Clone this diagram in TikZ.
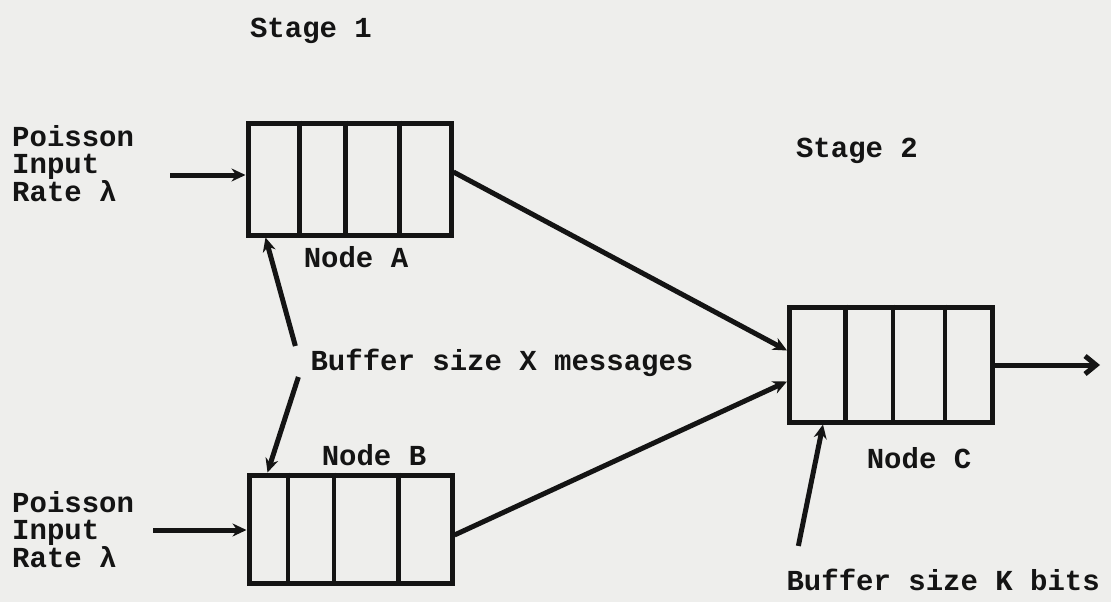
\documentclass[tikz,border=0pt]{standalone}
\usepackage{fontspec}
\setmonofont{Liberation Mono}
\usetikzlibrary{arrows.meta,calc,backgrounds}
\definecolor{Paper}{RGB}{ 238, 238, 236 }
\definecolor{Ink}{HTML}{141414}
\tikzset{
    label/.style={font=\ttfamily\bfseries\fontsize{29}{27}\selectfont, text=Ink, inner sep=0pt},
    buffer/.style={draw=Ink, line width=5pt, minimum width=203pt, inner sep=0pt},
    link/.style={Ink, line width=5pt, -{Stealth[length=14pt, width=13pt]}},
    divider/.style={Ink, line width=4.5pt}
}
\NewDocumentCommand{\Dividers}{m m}{
    \foreach \f in {#2} {
        \draw[divider] ($(#1.north west)!\f!(#1.north east)$) -- ($(#1.south west)!\f!(#1.south east)$);
    }
}

\begin{document}
\begin{tikzpicture}[x=1pt, y=-1pt]
\fill[Paper] (0,0) rectangle (1111,602);
\useasboundingbox (0,0) rectangle (1111,602);

% buffers
\node[buffer, minimum height=112pt] (nodeA) at (349.5,179) {};
\node[buffer, minimum height=108pt] (nodeB) at (350.5,529) {};
\node[buffer, minimum height=115pt] (nodeC) at (891,364.5) {};
\Dividers{nodeA}{0.26,0.48,0.74}
\Dividers{nodeB}{0.20,0.42,0.73}
\Dividers{nodeC}{0.28,0.51,0.76}

% labels
\node[label] (stage1) at (311,31) {Stage 1};
\node[label] (stage2) at (857,151) {Stage 2};
\node[label] (labA) at (356,257) {Node A};
\node[label] (labB) at (374,455) {Node B};
\node[label] (labC) at (919,458) {Node C};
\node[label, align=left, anchor=west] (inTextA) at (12,164) {Poisson\\Input\\Rate λ};
\node[label, align=left, anchor=west] (inTextB) at (12,530) {Poisson\\Input\\Rate λ};
\node[label] (bufX) at (502,363) {Buffer size X messages};
\node[label, anchor=east] (bufK) at (1100,580) {Buffer size K bits};

\coordinate (inA) at (170,175);
\coordinate (inB) at (153,530);
\coordinate (out) at (1100,365);

% connectors
\draw[link] (inA) -- (inA -| nodeA.west);
\draw[link] (inB) -- (inB -| nodeB.west);
\draw[link] ([yshift=7pt]nodeA.east) -- ([yshift=14pt]nodeC.west);
\draw[link] ([yshift=-6pt]nodeB.east) -- ([yshift=-17pt]nodeC.west);
\draw[Ink, line width=5pt, -{Straight Barb[length=11pt, width=18pt]}] (nodeC.east |- out) -- (out);
\draw[link] ([shift={(-15pt,17pt)}]bufX.west) -- ([xshift=20pt]nodeA.south west);
\draw[link] ([shift={(-12pt,-14pt)}]bufX.west) -- ([xshift=21pt]nodeB.north west);
\draw[link] ([shift={(12pt,23pt)}]bufK.north west) -- ([xshift=36pt]nodeC.south west);
\end{tikzpicture}
\end{document}
